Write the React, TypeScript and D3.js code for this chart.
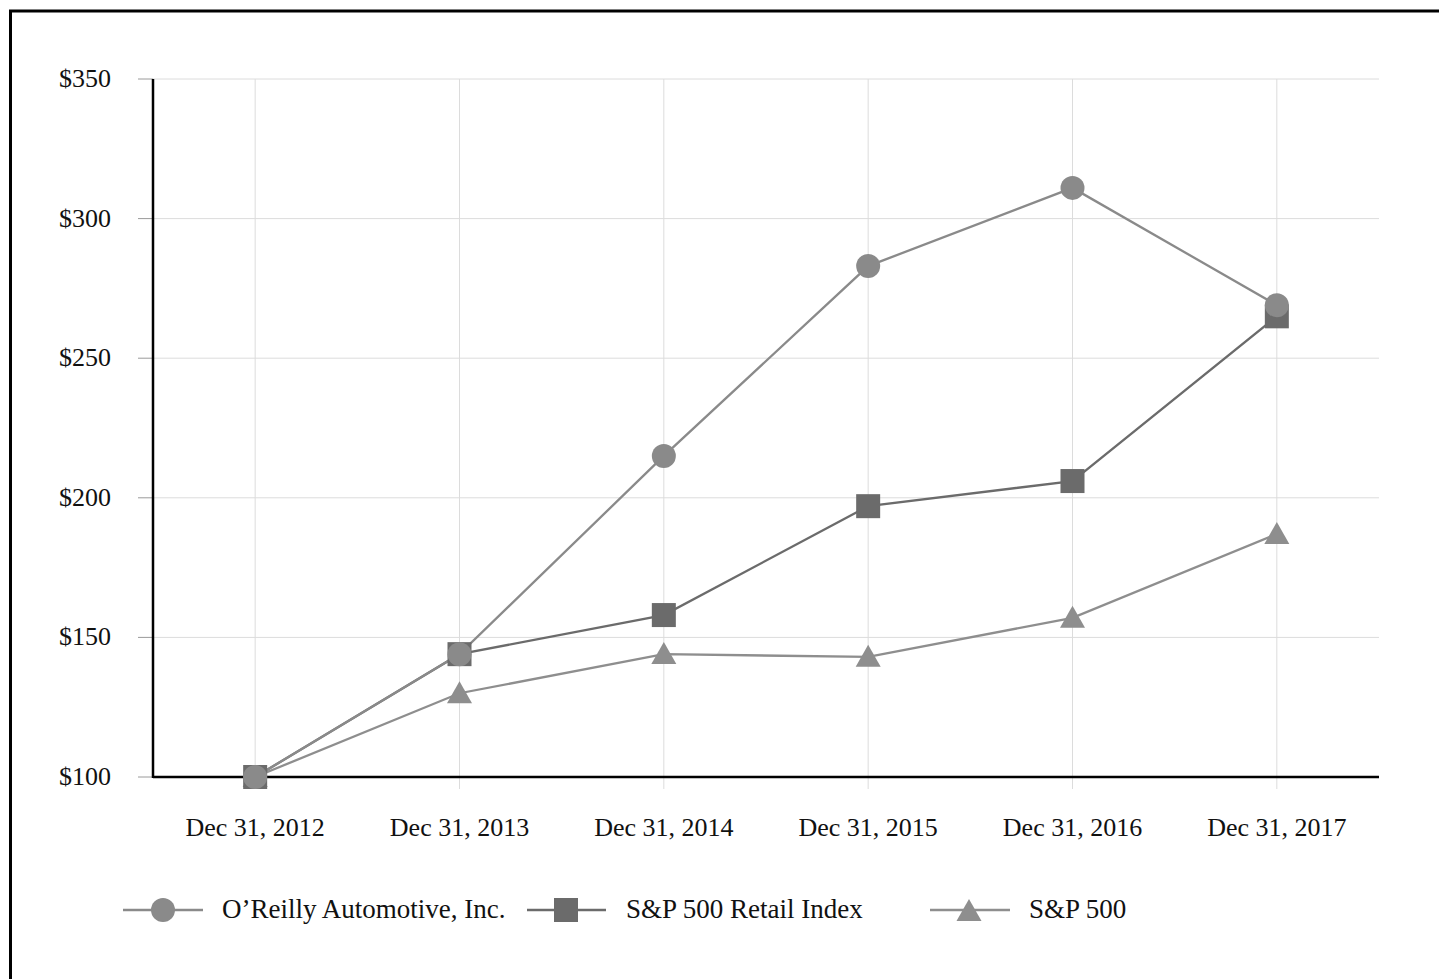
import React from "react";
import * as d3 from "d3";

const categories = ["Dec 31, 2012", "Dec 31, 2013", "Dec 31, 2014", "Dec 31, 2015", "Dec 31, 2016", "Dec 31, 2017"];
const oreilly = [100, 144, 215, 283, 311, 269];
const retail = [100, 144, 158, 197, 206, 265];
const sp500 = [100, 130, 144, 143, 157, 187];
const yTicks = [100, 150, 200, 250, 300, 350];
const seriesNames = ["O\u2019Reilly Automotive, Inc.", "S&P 500 Retail Index", "S&P 500"];

const W = 1439;
const H = 979;
const left = 153;
const right = 1379;
const top = 79;
const bottom = 777;
const FONT = "'Liberation Serif', 'Times New Roman', serif";

export default function App() {
  const x = d3.scaleBand<string>().domain(categories).range([left, right]);
  const cx = (c: string) => (x(c) as number) + x.bandwidth() / 2;
  const y = d3.scaleLinear().domain([100, 350]).range([bottom, top]);
  const line = d3
    .line<number>()
    .x((_, i) => cx(categories[i]))
    .y((d) => y(d));

  const colCircle = "#8a8a8a";
  const colSquare = "#6b6b6b";
  const colTri = "#8e8e8e";
  const triPath = (px: number, py: number, s = 25) => {
    const h = s * 0.88;
    return `M${px},${py - h * 0.55}L${px + s / 2},${py + h * 0.45}L${px - s / 2},${py + h * 0.45}Z`;
  };
  const sq = 24;

  const legendY = 910;

  return (
    <svg
      width={W}
      height={H}
      style={{ position: "absolute", left: 0, top: 0, background: "#fff" }}
      fontFamily={FONT}
    >
      <rect x={0} y={0} width={W} height={H} fill="#fff" />
      <rect x={10.5} y={11} width={W + 20} height={H + 20} fill="none" stroke="#000" strokeWidth={3} />

      {yTicks.map((t) => (
        <g key={t}>
          <line x1={left} x2={right} y1={y(t)} y2={y(t)} stroke="#dcdcdc" strokeWidth={1} />
          <line x1={138} x2={left} y1={y(t)} y2={y(t)} stroke="#9a9a9a" strokeWidth={1} />
          <text x={111} y={y(t) + 8} textAnchor="end" fontSize={26} fill="#111">
            ${t}
          </text>
        </g>
      ))}

      {categories.map((c) => (
        <g key={c}>
          <line x1={cx(c)} x2={cx(c)} y1={top} y2={bottom + 12} stroke="#dcdcdc" strokeWidth={1} />
          <text x={cx(c)} y={836} textAnchor="middle" fontSize={26} fill="#111">
            {c}
          </text>
        </g>
      ))}

      <line x1={left} x2={left} y1={top} y2={bottom + 1} stroke="#000" strokeWidth={2.5} />
      <line x1={left} x2={right} y1={bottom} y2={bottom} stroke="#000" strokeWidth={2.5} />

      <path d={line(sp500) || ""} fill="none" stroke={colTri} strokeWidth={2.3} />
      <path d={line(retail) || ""} fill="none" stroke={colSquare} strokeWidth={2.3} />
      <path d={line(oreilly) || ""} fill="none" stroke={colCircle} strokeWidth={2.3} />

      {sp500.map((v, i) => (
        <path key={"t" + i} d={triPath(cx(categories[i]), y(v))} fill={colTri} />
      ))}
      {retail.map((v, i) => (
        <rect key={"s" + i} x={cx(categories[i]) - sq / 2} y={y(v) - sq / 2} width={sq} height={sq} fill={colSquare} />
      ))}
      {oreilly.map((v, i) => (
        <circle key={"c" + i} cx={cx(categories[i])} cy={y(v)} r={12} fill={colCircle} />
      ))}

      <line x1={123} x2={203} y1={legendY} y2={legendY} stroke={colCircle} strokeWidth={2.5} />
      <circle cx={163} cy={legendY} r={12} fill={colCircle} />
      <text x={222} y={legendY + 8} fontSize={27} fill="#111">{seriesNames[0]}</text>

      <line x1={527} x2={606} y1={legendY} y2={legendY} stroke={colSquare} strokeWidth={2.5} />
      <rect x={566 - sq / 2} y={legendY - sq / 2} width={sq} height={sq} fill={colSquare} />
      <text x={626} y={legendY + 8} fontSize={27} fill="#111">{seriesNames[1]}</text>

      <line x1={930} x2={1010} y1={legendY} y2={legendY} stroke={colTri} strokeWidth={2.5} />
      <path d={triPath(969, legendY + 1)} fill={colTri} />
      <text x={1029} y={legendY + 8} fontSize={27} fill="#111">{seriesNames[2]}</text>
    </svg>
  );
}
